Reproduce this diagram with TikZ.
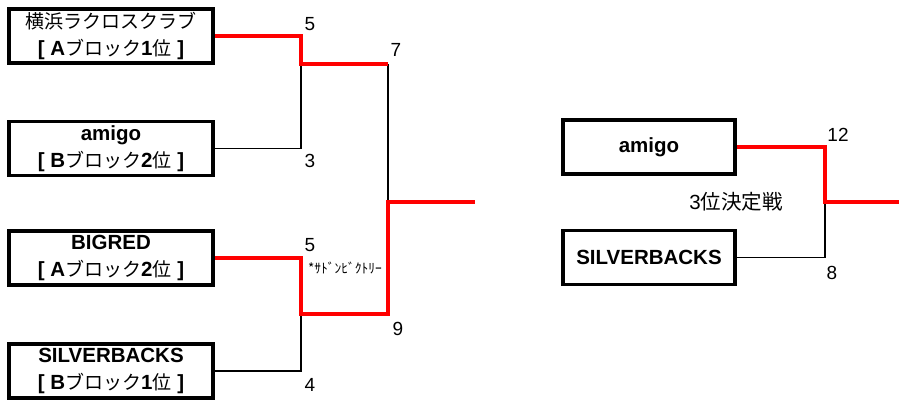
\documentclass[tikz,border=0pt]{standalone}
\usepackage{fontspec}
\setmainfont{Liberation Sans}
\newfontfamily\cjk{Noto Sans CJK JP}
\newcommand{\jp}[1]{{\cjk\mdseries\fontsize{19}{26}\selectfont #1}}
\newcommand{\jpb}[1]{{\cjk\mdseries\fontsize{20.5}{24}\selectfont #1}}
\definecolor{winred}{RGB}{255,0,0}
\begin{document}
\begin{tikzpicture}[x=1pt,y=-1pt,
  team/.style={draw=black,line width=3.8pt,minimum width=204pt,minimum height=54pt,
    inner sep=0pt,align=center,font=\fontsize{20.5}{26.5}\selectfont\bfseries},
  teamr/.style={team,minimum width=172pt},
  win/.style={draw=winred,line width=4.5pt},
  lose/.style={draw=black,line width=1.3pt},
  score/.style={font=\fontsize{19}{22}\selectfont,inner sep=0pt}]
\useasboundingbox (0,0) rectangle (899,399);
\fill[white] (0,0) rectangle (899,399);
% teams
\node[team] (b1) at (111,36) {\jp{横浜ラクロスクラブ}\\{[} A\jp{ブロック}1\jp{位} {]}};
\node[team] (b2) at (111,148.5) {amigo\\{[} B\jp{ブロック}2\jp{位} {]}};
\node[team] (b3) at (111,258) {BIGRED\\{[} A\jp{ブロック}2\jp{位} {]}};
\node[team] (b4) at (111,371) {SILVERBACKS\\{[} B\jp{ブロック}1\jp{位} {]}};
\node[teamr] (r1) at (649,147) {amigo};
\node[teamr] (r2) at (649,257.5) {SILVERBACKS};
% junctions
\coordinate (j1) at (301,64);
\coordinate (f1) at (388,64);
\coordinate (j2) at (301,314);
\coordinate (j3) at (388,202);
\coordinate (w) at (475,202);
\coordinate (j4) at (825,202);
\coordinate (w2) at (899,202);
% connectors
\draw[lose] (b2.east) -| (j1);
\draw[lose] (f1) -- (j3);
\draw[lose] (b4.east) -| (j2);
\draw[lose] (r2.east) -| (j4);
\draw[win] (b1.east) -| (j1) -- (f1);
\draw[win] (b3.east) -| (j2) -| (j3) -- (w);
\draw[win] (r1.east) -| (j4) -- (w2);
% scores
\node[score] (s1) at (310,24) {5};
\node[score] (s2) at (396,50) {7};
\node[score] (s3) at (310,161) {3};
\node[score] (s4) at (310,245) {5};
\node[score] (s5) at (398,329) {9};
\node[score] (s6) at (310,385) {4};
\node[score] (s7) at (838,135) {12};
\node[score] (s8) at (832,273) {8};
\node[inner sep=0pt] (sv) at (345,268) {{\cjk\fontsize{13.5}{14}\selectfont *ｻﾄﾞﾝﾋﾞｸﾄﾘｰ}};
\node[inner sep=0pt,font=\fontsize{20.5}{24}\selectfont] (third) at (736,202) {3\jpb{位決定戦}};
\end{tikzpicture}
\end{document}
